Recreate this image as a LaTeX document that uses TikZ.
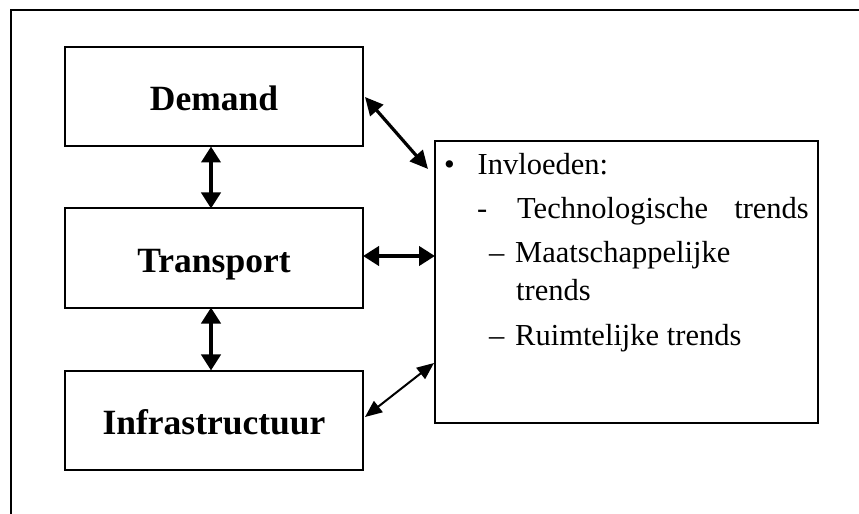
\documentclass[tikz,border=0pt]{standalone}
\usepackage{fontspec}
\setmainfont{Liberation Serif}
\usetikzlibrary{arrows.meta,positioning,calc}

\begin{document}
\begin{tikzpicture}[x=1bp, y=-1bp,
    box/.style={draw, line width=2bp, rectangle, minimum width=298bp, minimum height=99bp, outer sep=0pt,
        text height=29bp, text depth=1bp, font=\fontsize{35.5bp}{40bp}\selectfont\bfseries},
    txt/.style={anchor=base west, inner sep=0pt, font=\fontsize{30.5bp}{36bp}\selectfont},
    dbl/.style={line width=4.5bp, {Triangle[length=16bp,width=19bp]}-{Triangle[length=16bp,width=19bp]}},
    thin dbl/.style={line width=2bp, {Triangle[length=17bp,width=14bp]}-{Triangle[length=17bp,width=14bp]}}]
    \useasboundingbox (0,0) rectangle (859,514);
    % frame
    \draw[line width=2bp] (859,10) -- (11,10) -- (11,514);
    % the three blocks
    \node[box] (demand) at (214,97) {Demand};
    \node[box] (transport) at (214,258) {Transport};
    \node[box] (infra) at (214,420) {Infrastructuur};
    % influences
    \node[draw, line width=2.5bp, minimum width=383bp, minimum height=282bp, outer sep=0pt] (invloed) at (626.5,282) {};
    \node[txt] (bul) at (444,175) {•};
    \node[txt] (invl) at (477.5,175) {Invloeden:};
    \node[txt] (dash1) at (477,219) {-};
    \node[txt] (tech) at (517,219) {Technologische};
    \node[txt, anchor=base east] (tech2) at (809,219) {trends};
    \node[txt] (dash2) at (489,263) {–};
    \node[txt] (maat) at (515,263) {Maatschappelijke};
    \node[txt] (maat2) at (516,301) {trends};
    \node[txt] (dash3) at (489,345) {–};
    \node[txt] (ruimte) at (515,345) {Ruimtelijke trends};
    % connectors
    \draw[dbl] ([xshift=-3bp]demand.south) -- ([xshift=-3bp]transport.north);
    \draw[dbl] ([xshift=-3bp]transport.south) -- ([xshift=-3bp]infra.north);
    \draw[dbl] ([yshift=2bp]transport.east) -- ([yshift=2bp]transport.east -| invloed.west);
    \draw[line width=3.2bp, {Triangle[length=18bp,width=17bp]}-{Triangle[length=18bp,width=17bp]}]
        ([xshift=2bp]demand.east) -- ($(invloed.north west)+(-7,28)$);
    \draw[thin dbl] ([shift={(2,-3)}]infra.east) -- ($(invloed.west)+(-1,81)$);
\end{tikzpicture}
\end{document}
